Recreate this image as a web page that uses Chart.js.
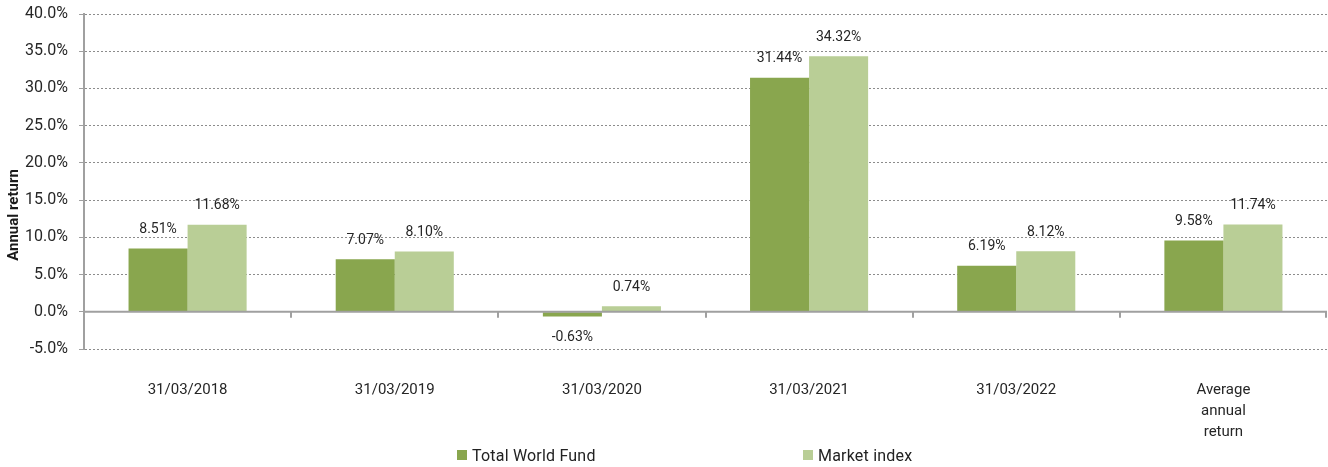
<!DOCTYPE html>
<html>
<head>
<meta charset="utf-8">
<script src="https://cdn.jsdelivr.net/npm/chart.js@4/dist/chart.umd.min.js"></script>
<style>
    body { margin: 0; background: #fff; }
    #wrap { position: relative; width: 1328px; height: 467px; }
    .legend-item { position: absolute; top: 445px; height: 20px; display: flex; align-items: center;
        font-family: Roboto, sans-serif; font-size: 16px; color: #222; letter-spacing: 0.2px; }
    .legend-item i { display: inline-block; width: 10px; height: 10px; margin-right: 5px; }
</style>
</head>
<body>
<div id="wrap">
    <canvas id="chart"></canvas>
    <div class="legend-item" style="left:457px"><i style="background:#89a64e"></i>Total World Fund</div>
    <div class="legend-item" style="left:803px"><i style="background:#b9ce96"></i>Market index</div>
</div>
<script>
// Chart data
const categories = ['31/03/2018', '31/03/2019', '31/03/2020', '31/03/2021', '31/03/2022', ['Average', 'annual', 'return']];
const fundReturns = [8.51, 7.07, -0.63, 31.44, 6.19, 9.58];
const indexReturns = [11.68, 8.10, 0.74, 34.32, 8.12, 11.74];
const yTicks = { min: -5, max: 40, step: 5 };

Chart.defaults.font.family = 'Roboto, sans-serif';
Chart.defaults.color = '#262626';

// Value labels above/below bars
const valueLabels = {
    id: 'valueLabels',
    afterDatasetsDraw(chart) {
        const ctx = chart.ctx;
        ctx.save();
        ctx.font = '14px Roboto, sans-serif';
        ctx.fillStyle = '#262626';
        ctx.textAlign = 'center';
        ctx.textBaseline = 'middle';
        chart.data.datasets.forEach((ds, i) => {
            chart.getDatasetMeta(i).data.forEach((bar, j) => {
                const v = ds.data[j];
                const y = v >= 0 ? bar.y - 19 : bar.y + 21;
                ctx.fillText(v.toFixed(2) + '%', bar.x, y);
            });
        });
        ctx.restore();
    }
};

// Solid zero line with category ticks, plus rotated axis title
const zeroAxis = {
    id: 'zeroAxis',
    afterDatasetsDraw(chart) {
        const ctx = chart.ctx;
        const y0 = chart.scales.y.getPixelForValue(0);
        const area = chart.chartArea;
        ctx.save();
        ctx.strokeStyle = '#a0a0a0';
        ctx.lineWidth = 2;
        ctx.beginPath();
        ctx.moveTo(area.left, y0);
        ctx.lineTo(area.right, y0);
        const step = (area.right - area.left) / categories.length;
        for (let i = 1; i <= categories.length; i++) {
            const px = Math.round(area.left + step * i) - (i === categories.length ? 1 : 0);
            ctx.moveTo(px, y0);
            ctx.lineTo(px, y0 + 6);
        }
        ctx.stroke();

        ctx.translate(14, 215);
        ctx.rotate(-Math.PI / 2);
        ctx.font = 'bold 15px Roboto, sans-serif';
        ctx.fillStyle = '#1a1a1a';
        ctx.textAlign = 'center';
        ctx.textBaseline = 'middle';
        ctx.fillText('Annual return', 0, 0);
        ctx.restore();
    }
};

new Chart(document.getElementById('chart').getContext('2d'), {
    type: 'bar',
    data: {
        labels: categories,
        datasets: [{
            label: 'Total World Fund',
            data: fundReturns,
            backgroundColor: '#89a64e',
            categoryPercentage: 0.57,
            barPercentage: 1.0
        }, {
            label: 'Market index',
            data: indexReturns,
            backgroundColor: '#b9ce96',
            categoryPercentage: 0.57,
            barPercentage: 1.0
        }]
    },
    options: {
        responsive: true,
        maintainAspectRatio: false,
        animation: false,
        layout: { padding: { top: 14, right: 1, left: 0, bottom: 0 } },
        plugins: {
            legend: { display: false },
            tooltip: { enabled: false }
        },
        scales: {
            x: {
                grid: { display: false, drawTicks: false },
                border: { display: false },
                ticks: {
                    padding: 31,
                    maxRotation: 0,
                    autoSkip: false,
                    font: { size: 15, lineHeight: 1.4 },
                    color: '#262626'
                },
                afterFit(scale) { scale.height = 118; }
            },
            y: {
                min: yTicks.min,
                max: yTicks.max,
                ticks: {
                    stepSize: yTicks.step,
                    padding: 11,
                    font: { size: 16 },
                    color: '#262626',
                    callback: v => v.toFixed(1) + '%'
                },
                grid: {
                    color: '#8c8c8c',
                    lineWidth: 1,
                    tickLength: 5,
                    tickColor: '#a0a0a0',
                    tickWidth: 1
                },
                border: { display: true, color: '#a0a0a0', width: 2, dash: [2, 2] },
                afterFit(scale) {
                    scale.width = 84;
                    scale.paddingTop = 0;
                    scale.paddingBottom = 0;
                }
            }
        }
    },
    plugins: [valueLabels, zeroAxis]
});
</script>
</body>
</html>
